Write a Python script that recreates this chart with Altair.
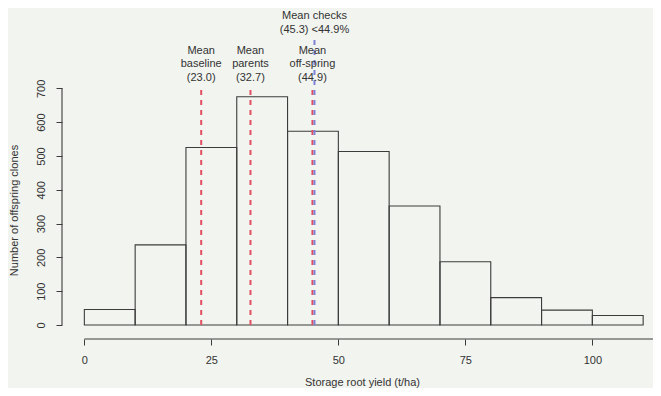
import altair as alt
import pandas as pd

# ---- data ----
bin_start = [0, 10, 20, 30, 40, 50, 60, 70, 80, 90, 100]
bin_end = [10, 20, 30, 40, 50, 60, 70, 80, 90, 100, 110]
counts = [46, 237, 525, 675, 573, 513, 352, 187, 81, 44, 28]

mean_names = ["baseline", "parents", "off-spring", "checks"]
mean_values = [23.0, 32.7, 44.9, 45.3]
mean_line_top = [700, 700, 700, 849]
mean_colors = ["#e24f62", "#e24f62", "#e24f62", "#7f83d6"]

ann_x = [23.0, 23.0, 23.0, 32.7, 32.7, 32.7, 44.9, 44.9, 44.9, 45.3, 45.3]
ann_text = ["Mean", "baseline", "(23.0)", "Mean", "parents", "(32.7)",
            "Mean", "off-spring", "(44.9)", "Mean checks", "(45.3) <44.9%"]
ann_dy = [-30, -17, -3, -30, -17, -3, -30, -17, -3, -65, -51]

x_ticks = [0, 25, 50, 75, 100]
y_ticks = [0, 100, 200, 300, 400, 500, 600, 700]

BG = "#f1f4ef"
INK = "#3c3c3c"
FONT = "Liberation Sans"

W, H = 584, 258
x_dom = [-4.4, 110.56]
y_dom = [-41.4, 721.7]

bars = pd.DataFrame({"start": bin_start, "end": bin_end, "count": counts})
means = pd.DataFrame({"name": mean_names, "value": mean_values,
                      "top": mean_line_top, "color": mean_colors,
                      "zero": [0] * len(mean_values)})
ann = pd.DataFrame({"x": ann_x, "text": ann_text, "dy": ann_dy})

xs = alt.Scale(domain=x_dom, nice=False, zero=False)
ys = alt.Scale(domain=y_dom, nice=False, zero=False)

XAX = alt.Axis(
    values=x_ticks, domain=False, grid=False, tickSize=6, tickColor=INK,
    tickWidth=1, labelPadding=9, labelFontSize=11, labelColor="#333",
    labelFont=FONT, labelOverlap=False, labelFlush=False,
    title="Storage root yield (t/ha)", titleFont=FONT,
    titleFontSize=11, titleFontWeight="normal", titleColor="#333",
    titleX=300, titleY=43, titleAlign="center", titleBaseline="middle")
YAX = alt.Axis(
    values=y_ticks, domain=False, grid=False, tickSize=6, tickColor=INK,
    tickWidth=1, labelAngle=270, labelAlign="center",
    labelBaseline="alphabetic", labelPadding=12, labelFontSize=11,
    labelColor="#333", labelFont=FONT, labelOverlap=False,
    labelFlush=False,
    title="Number of offspring clones", titleFont=FONT, titleFontSize=11,
    titleFontWeight="normal", titleColor="#333", titleAngle=270,
    titleX=-48, titleY=129, titleAlign="center",
    titleBaseline="middle")

hist = alt.Chart(bars).mark_rect(
    fill=BG, fillOpacity=0, stroke=INK, strokeWidth=1.1
).encode(
    x=alt.X("start:Q", scale=xs, axis=XAX),
    x2="end:Q",
    y=alt.Y("count:Q", scale=ys, axis=YAX),
    y2=alt.Y2(datum=0),
)

x_axis_line = alt.Chart(pd.DataFrame({"a": [0], "b": [114]})).mark_rule(
    color=INK, strokeWidth=1.1
).encode(x=alt.X("a:Q", scale=xs, axis=XAX), x2="b:Q", y=alt.value(H))

y_axis_line = alt.Chart(pd.DataFrame({"a": [0], "b": [700]})).mark_rule(
    color=INK, strokeWidth=1.1
).encode(y=alt.Y("a:Q", scale=ys, axis=YAX), y2="b:Q", x=alt.value(0))

mean_lines = alt.Chart(means).mark_rule(
    strokeWidth=2, strokeDash=[5, 5]
).encode(
    x=alt.X("value:Q", scale=xs, axis=XAX),
    y=alt.Y("zero:Q", scale=ys, axis=YAX),
    y2="top:Q",
    color=alt.Color("color:N", scale=None, legend=None),
)

labels = alt.Chart(ann).mark_text(
    font=FONT, fontSize=11, color="#333", align="center", baseline="middle"
).encode(
    x=alt.X("x:Q", scale=xs, axis=XAX),
    y=alt.Y("dy:Q", scale=None),
    text="text:N",
)

chart = alt.layer(hist, x_axis_line, y_axis_line, mean_lines, labels).properties(
    width=W, height=H,
    padding={"left": 54, "top": 73, "right": 7, "bottom": 49},
    autosize=alt.AutoSizeParams(type="none"),
    background=BG,
).configure_view(stroke=None)

chart.save("out.html", embed_options={"renderer": "svg", "actions": False})
